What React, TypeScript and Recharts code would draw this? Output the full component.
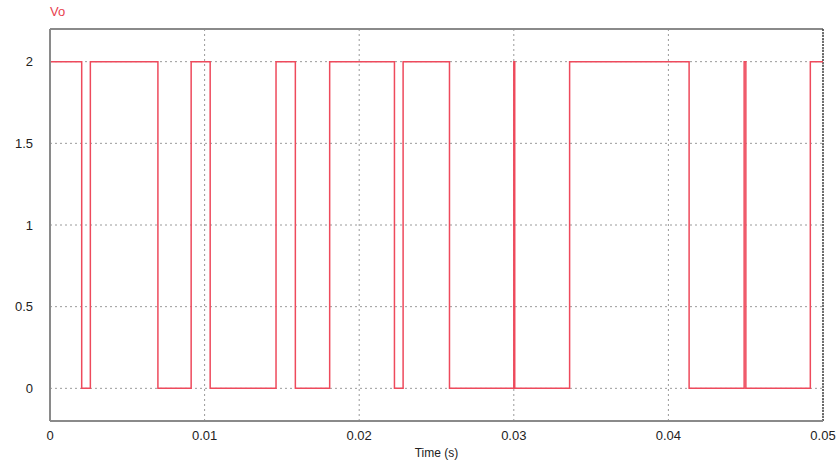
import { LineChart, Line, XAxis, YAxis, CartesianGrid, ReferenceLine } from "recharts"

// switching instants (s) and output level after each instant
const switchTimes = [
  0, 0.00205, 0.00261, 0.00698, 0.00913, 0.01036, 0.01462, 0.01587, 0.01809,
  0.02228, 0.02284, 0.02584, 0.03, 0.03006, 0.03361, 0.04134, 0.0449, 0.04501,
  0.04918, 0.05,
]
const levels = [2, 0, 2, 0, 2, 0, 2, 0, 2, 0, 2, 0, 2, 0, 2, 0, 2, 0, 2, 2]

const xTicks = [0, 0.01, 0.02, 0.03, 0.04, 0.05]
const yTicks = [0, 0.5, 1, 1.5, 2]

const data = switchTimes.map((t, i) => ({ t, vo: levels[i] }))

const tickStyle = { fontFamily: "Liberation Sans, Arial, sans-serif", fontSize: 13, fill: "#222" }

export default function App() {
  return (
    <div style={{ position: "absolute", left: 0, top: 0, width: 838, height: 465, background: "#fff" }}>
      <div
        style={{
          position: "absolute",
          left: 50,
          top: 4,
          color: "#e8424f",
          fontFamily: "Liberation Sans, Arial, sans-serif",
          fontSize: 13,
        }}
      >
        Vo
      </div>
      <LineChart width={838} height={465} data={data} margin={{ top: 29, right: 15, bottom: 14, left: 0 }}>
        <CartesianGrid stroke="#9a9a9a" strokeDasharray="2 3" horizontalValues={yTicks} verticalValues={xTicks} />
        <XAxis
          dataKey="t"
          type="number"
          domain={[0, 0.05]}
          ticks={xTicks}
          tickLine={false}
          tickMargin={10}
          tickSize={0}
          axisLine={{ stroke: "#8a8a8a", strokeWidth: 2 }}
          tick={tickStyle}
          label={{ value: "Time (s)", position: "bottom", offset: -3, style: { ...tickStyle, fontSize: 12 } }}
        />
        <YAxis
          type="number"
          domain={[-0.2, 2.2]}
          ticks={yTicks}
          width={50}
          tickLine={false}
          tickSize={0}
          tickMargin={17}
          axisLine={{ stroke: "#8a8a8a", strokeWidth: 2 }}
          tick={tickStyle}
        />
        <ReferenceLine y={2.2} stroke="#8a8a8a" strokeWidth={2} />
        <ReferenceLine x={0.05} stroke="#444" strokeDasharray="2 1" strokeWidth={1.5} />
        <Line
          type="stepAfter"
          dataKey="vo"
          stroke="#ee4a5c"
          strokeWidth={1.5}
          dot={false}
          isAnimationActive={false}
        />
      </LineChart>
    </div>
  )
}
